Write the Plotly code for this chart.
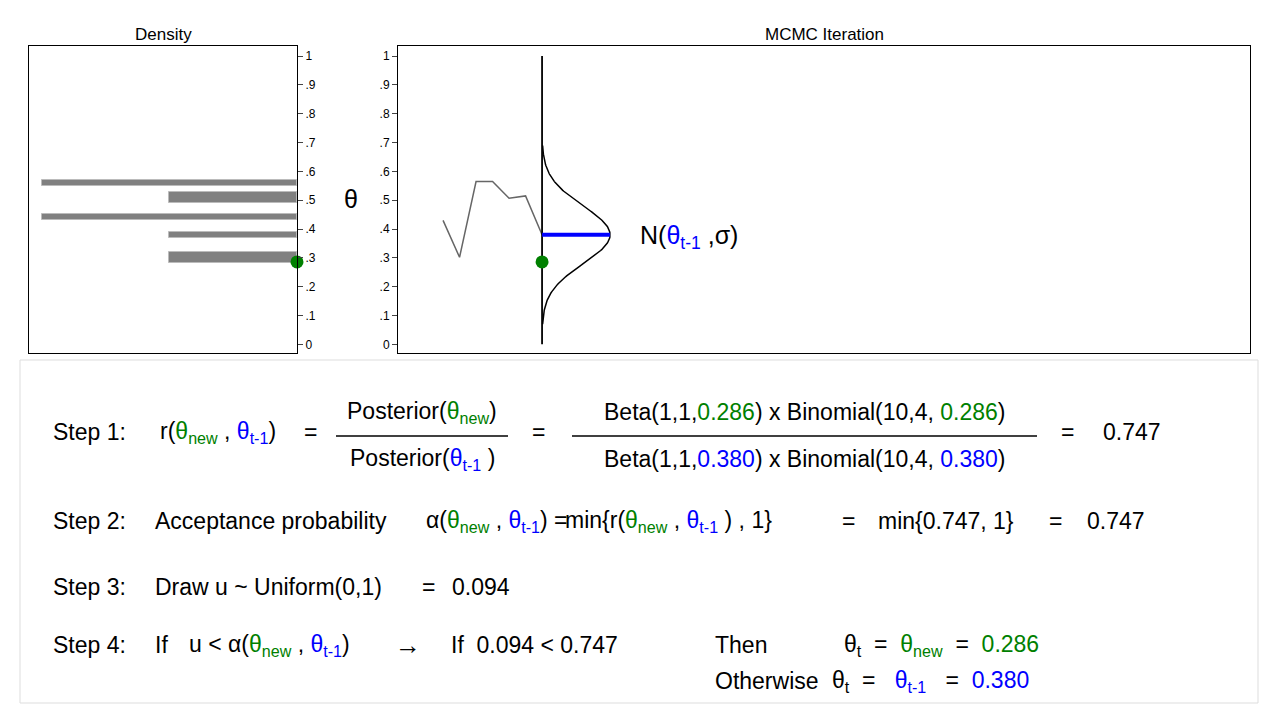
import numpy as np
import plotly.graph_objects as go

# chain values and histogram bars
iters = [1, 2, 3, 4, 5, 6, 7]
chain = [0.43, 0.302, 0.565, 0.565, 0.507, 0.515, 0.38]
bar_pos = [0.559, 0.51, 0.441, 0.38, 0.30]
bar_len = [2, 1, 2, 1, 1]
bar_w = [0.02, 0.038, 0.02, 0.02, 0.038]
theta_cur = 0.38
theta_new = 0.286
sigma = 0.1
ticks = [0, 0.1, 0.2, 0.3, 0.4, 0.5, 0.6, 0.7, 0.8, 0.9, 1]
ticktext = ["0", ".1", ".2", ".3", ".4", ".5", ".6", ".7", ".8", ".9", "1"]

OFF = 8
W, H = 1280 - 2 * OFF, 720 - 2 * OFF
def px(x): return (x - OFF) / W
def py(y): return 1 - (y - OFF) / H

G = "green"
B = "blue"
def sub(s, c): return f"<span style='color:{c}'>θ<sub style='font-size:15px'>{s}</sub></span>"
TN = sub("new", G)
TT = sub("t-1", B)
NB = "&nbsp;"

fig = go.Figure()
fig.add_trace(go.Bar(y=bar_pos, x=bar_len, width=bar_w, orientation="h",
                     marker=dict(color="gray", line=dict(color="#bbbbbb", width=1)),
                     xaxis="x", yaxis="y"))
fig.add_trace(go.Scatter(x=[0], y=[theta_new], mode="markers",
                         marker=dict(color="green", size=13), xaxis="x", yaxis="y", cliponaxis=False))

fig.add_trace(go.Scatter(x=iters, y=chain, mode="lines", line=dict(color="#666666", width=1.5),
                         xaxis="x2", yaxis="y2"))
fig.add_trace(go.Scatter(x=[7, 7], y=[0, 1], mode="lines", line=dict(color="black", width=1.8),
                         xaxis="x2", yaxis="y2"))
yy = np.linspace(0.07, 0.69, 200)
pdf = np.exp(-0.5 * ((yy - theta_cur) / sigma) ** 2)
fig.add_trace(go.Scatter(x=7 + 4.12 * pdf, y=yy, mode="lines", line=dict(color="black", width=1.5),
                         xaxis="x2", yaxis="y2"))
fig.add_trace(go.Scatter(x=[7, 11.12], y=[theta_cur, theta_cur], mode="lines",
                         line=dict(color="blue", width=4), xaxis="x2", yaxis="y2"))
fig.add_trace(go.Scatter(x=[7], y=[theta_new], mode="markers", marker=dict(color="green", size=13),
                         xaxis="x2", yaxis="y2"))

yax = dict(range=[-0.03, 1.035], tickvals=ticks, ticktext=ticktext, ticks="outside", ticklen=5,
           showgrid=False, zeroline=False, tickfont=dict(size=12, color="black"), showline=True,
           mirror=True, linecolor="black", linewidth=1)
fig.update_layout(
    xaxis=dict(domain=[px(29), px(297)], range=[2.1, 0], showticklabels=False, showgrid=False,
               zeroline=False, showline=True, mirror=True, linecolor="black", ticks=""),
    yaxis=dict(yax, domain=[py(353), py(46)], side="right", anchor="x"),
    xaxis2=dict(domain=[px(398), px(1250)], range=[-1.73, 49.9], showticklabels=False, showgrid=False,
                zeroline=False, showline=True, mirror=True, linecolor="black", ticks="", anchor="y2"),
    yaxis2=dict(yax, domain=[py(353), py(46)], anchor="x2"),
    showlegend=False, plot_bgcolor="white", paper_bgcolor="white",
    width=W, height=H, margin=dict(l=0, r=0, t=0, b=0),
    font=dict(family="Liberation Sans, Arial", color="black"),
    bargap=0,
)

shapes = [
    dict(type="rect", xref="paper", yref="paper", x0=px(20), x1=px(1258), y0=py(703), y1=py(360),
         line=dict(color="#dddddd", width=1)),
    dict(type="line", xref="paper", yref="paper", x0=px(336), x1=px(508), y0=py(436), y1=py(436),
         line=dict(color="black", width=1.5)),
    dict(type="line", xref="paper", yref="paper", x0=px(572), x1=px(1037), y0=py(436), y1=py(436),
         line=dict(color="black", width=1.5)),
]
fig.update_layout(shapes=shapes)

anns = []
def T(x, y, text, size=23, anchor="left"):
    anns.append(dict(x=px(x), y=py(y), xref="paper", yref="paper", text=text, showarrow=False,
                     xanchor=anchor, yanchor="middle", font=dict(size=size)))

T(163, 35, "Density", 17, "center")
T(824, 35, "MCMC Iteration", 17, "center")
T(351, 199, "θ", 25, "center")
T(638, 237, f"N({TT} ,σ)", 25)

T(51, 432, "Step 1:")
T(158, 432, f"r({TN} , {TT})")
T(310, 432, "=", anchor="center")
T(422, 412, f"Posterior({TN})", anchor="center")
T(422, 459, f"Posterior({TT} )", anchor="center")
T(538, 432, "=", anchor="center")
T(805, 412, "Beta(1,1,<span style='color:green'>0.286</span>) x Binomial(10,4, <span style='color:green'>0.286</span>)", anchor="center")
T(805, 459, "Beta(1,1,<span style='color:blue'>0.380</span>) x Binomial(10,4, <span style='color:blue'>0.380</span>)", anchor="center")
T(1067, 432, "=", anchor="center")
T(1101, 432, "0.747")

T(51, 521, "Step 2:")
T(153, 521, "Acceptance probability")
T(424, 521, f"α({TN} , {TT}) =")
T(563, 521, f"min{{r({TN} , {TT} ) , 1}}")
T(848, 521, "=", anchor="center")
T(876, 521, "min{0.747, 1}")
T(1055, 521, "=", anchor="center")
T(1085, 521, "0.747")

T(51, 587, "Step 3:")
T(153, 587, "Draw u ~ Uniform(0,1)")
T(428, 587, "=", anchor="center")
T(450, 587, "0.094")

T(51, 645, "Step 4:")
T(153, 645, "If")
T(187, 645, f"u &lt; α({TN} , {TT})")
T(408, 645, "→", size=26, anchor="center")
T(449, 645, f"If{NB}{NB}0.094 &lt; 0.747")
T(713, 645, "Then")
T(842, 645, f"θ<sub style='font-size:15px'>t</sub>{NB}{NB}={NB}{NB}{TN}{NB}{NB}={NB}{NB}<span style='color:green'>0.286</span>")
T(713, 681, "Otherwise")
T(830, 681, f"θ<sub style='font-size:15px'>t</sub>{NB}{NB}={NB}{NB}{NB}{TT}{NB}{NB}{NB}={NB}{NB}<span style='color:blue'>0.380</span>")
fig.update_layout(annotations=anns)

fig.write_html("out.html")
